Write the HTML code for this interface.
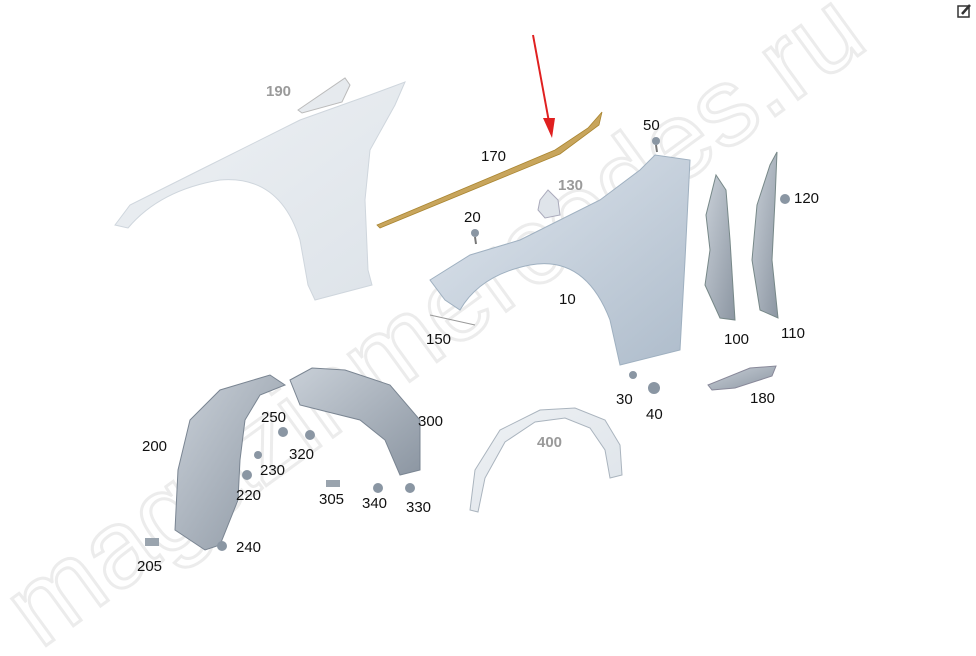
<!DOCTYPE html>
<html><head><meta charset="utf-8"><style>
html,body{margin:0;padding:0;background:#fff;width:976px;height:656px;overflow:hidden}
svg{display:block}
text{font-family:"Liberation Sans",sans-serif;font-size:15px;fill:#111}
.g{fill:#9a9a9a;font-weight:bold}
.wm{font-size:110px;fill:none;stroke:#ececec;stroke-width:3}
</style></head><body>
<svg width="976" height="656" viewBox="0 0 976 656">
<defs>
<linearGradient id="fb" x1="0" y1="0" x2="1" y2="1"><stop offset="0" stop-color="#dfe6ee"/><stop offset="1" stop-color="#aebccb"/></linearGradient>
<linearGradient id="fl" x1="0" y1="0" x2="1" y2="1"><stop offset="0" stop-color="#eef1f4"/><stop offset="1" stop-color="#dde3e9"/></linearGradient>
<linearGradient id="dk" x1="0" y1="0" x2="1" y2="1"><stop offset="0" stop-color="#c9d0d8"/><stop offset="1" stop-color="#8c96a2"/></linearGradient>
</defs>
<text class="wm" transform="translate(40,650) rotate(-36)">magazinmercedes.ru</text>
<!-- left fender -->
<path d="M115,225 L130,205 L200,170 L300,120 L370,95 L405,82 L395,105 L370,150 L365,200 L368,270 L372,285 L315,300 L308,285 L300,240 Q280,175 220,180 Q160,190 128,228 Z" fill="url(#fl)" stroke="#cfd6dd"/>
<path d="M298,110 L345,78 L350,85 L342,102 L302,113 Z" fill="#e6eaee" stroke="#bbb"/>
<!-- strip 170 -->
<path d="M377,225 L555,150 L588,128 L602,112 L599,125 L560,154 L380,228 Z" fill="#c8a55c" stroke="#a98530" stroke-width="0.8"/>
<!-- red arrow -->
<line x1="533" y1="35" x2="549" y2="122" stroke="#e02020" stroke-width="2"/>
<polygon points="543,118 555,118 552,138" fill="#e02020"/>
<!-- 130 clip -->
<path d="M540,200 L548,190 L558,200 L560,215 L545,218 L538,210 Z" fill="#dfe4ea" stroke="#aab"/>
<!-- right fender -->
<path d="M430,280 L470,255 L520,240 L600,200 L640,170 L655,155 L690,160 L688,200 L685,260 L680,350 L620,365 L610,320 Q585,255 530,265 Q480,275 460,310 L445,300 Z" fill="url(#fb)" stroke="#9fb0c0"/>
<!-- small parts -->
<circle cx="656" cy="141" r="4" fill="#8a96a3"/><line x1="656" y1="145" x2="657" y2="152" stroke="#777" stroke-width="2"/>
<circle cx="475" cy="233" r="4" fill="#8a96a3"/><line x1="475" y1="237" x2="476" y2="244" stroke="#777" stroke-width="2"/>
<path d="M706,215 L716,175 L726,190 L730,240 L735,320 L720,318 L705,285 L710,250 Z" fill="url(#dk)" stroke="#788"/>
<path d="M757,205 L770,165 L777,152 L775,200 L772,260 L778,318 L760,310 L752,260 Z" fill="url(#dk)" stroke="#788"/>
<circle cx="785" cy="199" r="5" fill="#8a96a3"/>
<path d="M430,315 L475,325" stroke="#999"/>
<circle cx="633" cy="375" r="4" fill="#8a96a3"/><circle cx="654" cy="388" r="6" fill="#8a96a3"/>
<path d="M708,385 L750,368 L776,366 L772,376 L735,388 L712,390 Z" fill="url(#dk)" stroke="#889"/>
<!-- 400 arch -->
<path d="M470,510 L475,470 L500,430 L540,410 L575,408 L605,420 L620,445 L622,475 L610,478 L605,450 L590,428 L565,418 L535,422 L505,442 L485,478 L478,512 Z" fill="url(#fl)" stroke="#aab4be"/>
<!-- liner 200 -->
<path d="M178,470 L190,420 L220,390 L270,375 L285,385 L260,395 L245,420 L240,460 L238,500 L220,545 L205,550 L175,530 Z" fill="url(#dk)" stroke="#7a8592"/>
<!-- liner 300 -->
<path d="M290,380 L312,368 L345,370 L390,385 L420,420 L420,470 L400,475 L385,440 L360,420 L320,410 L300,405 Z" fill="url(#dk)" stroke="#7a8592"/>
<circle cx="283" cy="432" r="5" fill="#8a96a3"/><circle cx="310" cy="435" r="5" fill="#8a96a3"/>
<circle cx="258" cy="455" r="4" fill="#8a96a3"/><circle cx="247" cy="475" r="5" fill="#8a96a3"/>
<circle cx="222" cy="546" r="5" fill="#8a96a3"/><rect x="145" y="538" width="14" height="8" fill="#9aa4ae"/>
<rect x="326" y="480" width="14" height="7" fill="#9aa4ae"/><circle cx="378" cy="488" r="5" fill="#8a96a3"/><circle cx="410" cy="488" r="5" fill="#8a96a3"/>
<!-- labels -->
<text class="g" x="266" y="96">190</text>
<text x="481" y="161">170</text>
<text class="g" x="558" y="190">130</text>
<text x="643" y="130">50</text>
<text x="464" y="222">20</text>
<text x="794" y="203">120</text>
<text x="559" y="304">10</text>
<text x="426" y="344">150</text>
<text x="724" y="344">100</text>
<text x="781" y="338">110</text>
<text x="616" y="404">30</text>
<text x="646" y="419">40</text>
<text x="750" y="403">180</text>
<text x="261" y="422">250</text>
<text x="418" y="426">300</text>
<text x="142" y="451">200</text>
<text x="289" y="459">320</text>
<text x="260" y="475">230</text>
<text class="g" x="537" y="447">400</text>
<text x="236" y="500">220</text>
<text x="319" y="504">305</text>
<text x="362" y="508">340</text>
<text x="406" y="512">330</text>
<text x="236" y="552">240</text>
<text x="137" y="571">205</text>
<!-- edit icon -->
<rect x="958" y="6" width="11" height="11" fill="none" stroke="#333" stroke-width="1.5"/>
<path d="M962,14 L970,5" stroke="#333" stroke-width="2.5"/>
</svg>
</body></html>
